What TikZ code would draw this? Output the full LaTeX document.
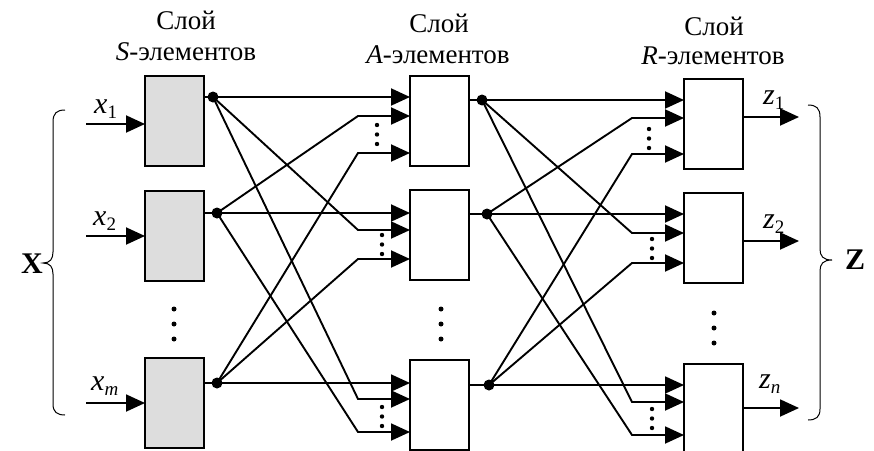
\documentclass[tikz,border=0pt]{standalone}
\usepackage{fontspec}
\setmainfont{Liberation Serif}
\usetikzlibrary{arrows.meta}
\definecolor{boxgray}{RGB}{221,221,221}
% variable with a small subscript
\newcommand{\var}[2]{\textit{#1}\raisebox{-5pt}{\fontsize{19}{19}\selectfont #2}}
\begin{document}
\begin{tikzpicture}[x=1pt,y=-1pt,
  wire/.style={line width=1.9pt},
  arr/.style={wire,-{Triangle[length=19pt,width=17pt]}},
  unit/.style={draw,line width=2pt,minimum width=59pt,minimum height=90pt,inner sep=0pt,outer sep=0pt},
  sunit/.style={unit,fill=boxgray},
  junction/.style={circle,fill=black,inner sep=0pt,minimum size=11pt},
  vdot/.style={circle,fill=black,inner sep=0pt,minimum size=5pt},
  sdot/.style={circle,fill=black,inner sep=0pt,minimum size=4.4pt},
  title/.style={anchor=base,font=\fontsize{27}{30}\selectfont,inner sep=0pt},
  lab/.style={anchor=base west,font=\fontsize{30}{32}\selectfont,inner sep=0pt},
  brace/.style={line width=1pt}]
\useasboundingbox (0,0) rectangle (874,450);

% layer titles
\node[title] (ts1) at (186,29) {Слой};
\node[title] (ts2) at (186,60) {\textit{S}-элементов};
\node[title] (ta1) at (439,32) {Слой};
\node[title] (ta2) at (438,63) {\textit{A}-элементов};
\node[title] (tr1) at (714,35) {Слой};
\node[title] (tr2) at (713,64) {\textit{R}-элементов};

% S-layer
\node[sunit] (s1) at (174.5,121) {};
\node[sunit] (s2) at (174.5,236) {};
\node[sunit] (s3) at (174.5,403) {};
% A-layer
\node[unit] (a1) at (439.5,121) {};
\node[unit] (a2) at (439.5,235) {};
\node[unit] (a3) at (439.5,404.5) {};
% R-layer
\node[unit] (r1) at (713,124) {};
\node[unit] (r2) at (713,238) {};
\node[unit] (r3) at (713,409) {};

% inputs x_i
\coordinate (x1s) at (86,124);
\coordinate (x2s) at (86,236);
\coordinate (x3s) at (86,403);
\draw[arr] (x1s) -- (x1s -| s1.west);
\draw[arr] (x2s) -- (x2s -| s2.west);
\draw[arr] (x3s) -- (x3s -| s3.west);
\node[lab] (lx1) at (94,113) {\var{x}{1}};
\node[lab] (lx2) at (93,225) {\var{x}{2}};
\node[lab] (lx3) at (91,390) {\var{x}{\textit{m}}};

% outputs z_i
\coordinate (z1e) at (799,117);
\coordinate (z2e) at (799,241);
\coordinate (z3e) at (799,408);
\draw[arr] (z1e -| r1.east) -- (z1e);
\draw[arr] (z2e -| r2.east) -- (z2e);
\draw[arr] (z3e -| r3.east) -- (z3e);
\node[lab] (lz1) at (763,104) {\var{z}{1}};
\node[lab] (lz2) at (763,228) {\var{z}{2}};
\node[lab] (lz3) at (759,388) {\var{z}{\textit{n}}};

% branching points
\node[junction] (s1o) at (213,97) {};
\node[junction] (s2o) at (217,213) {};
\node[junction] (s3o) at (217,383) {};
\node[junction] (a1o) at (482,100) {};
\node[junction] (a2o) at (487,214) {};
\node[junction] (a3o) at (489,385) {};
\foreach \b in {s1,s2,s3,a1,a2,a3}
  \draw[wire] (\b.east |- \b o.center) -- (\b o.center);

% input points of the A-layer
\coordinate (a1i1) at (410,97);  \coordinate (a1i2) at (410,116); \coordinate (a1i3) at (410,153);
\coordinate (a2i1) at (410,213); \coordinate (a2i2) at (410,230); \coordinate (a2i3) at (410,259);
\coordinate (a3i1) at (410,383); \coordinate (a3i2) at (410,399); \coordinate (a3i3) at (410,432);
% input points of the R-layer
\coordinate (r1i1) at (684,100); \coordinate (r1i2) at (684,118); \coordinate (r1i3) at (684,154);
\coordinate (r2i1) at (684,214); \coordinate (r2i2) at (684,233); \coordinate (r2i3) at (684,263);
\coordinate (r3i1) at (684,385); \coordinate (r3i2) at (684,402); \coordinate (r3i3) at (684,435);

% S -> A connections
\draw[arr] (s1o.center) -- (a1i1);
\draw[arr] (s1o.center) -- ([xshift=-52pt]a2i2) -- (a2i2);
\draw[arr] (s1o.center) -- ([xshift=-52pt]a3i2) -- (a3i2);
\draw[arr] (s2o.center) -- ([xshift=-52pt]a1i2) -- (a1i2);
\draw[arr] (s2o.center) -- (a2i1);
\draw[arr] (s2o.center) -- ([xshift=-52pt]a3i3) -- (a3i3);
\draw[arr] (s3o.center) -- ([xshift=-52pt]a1i3) -- (a1i3);
\draw[arr] (s3o.center) -- ([xshift=-52pt]a2i3) -- (a2i3);
\draw[arr] (s3o.center) -- (a3i1);

% A -> R connections
\draw[arr] (a1o.center) -- (r1i1);
\draw[arr] (a1o.center) -- ([xshift=-52pt]r2i2) -- (r2i2);
\draw[arr] (a1o.center) -- ([xshift=-52pt]r3i2) -- (r3i2);
\draw[arr] (a2o.center) -- ([xshift=-52pt]r1i2) -- (r1i2);
\draw[arr] (a2o.center) -- (r2i1);
\draw[arr] (a2o.center) -- ([xshift=-52pt]r3i3) -- (r3i3);
\draw[arr] (a3o.center) -- ([xshift=-52pt]r1i3) -- (r1i3);
\draw[arr] (a3o.center) -- ([xshift=-52pt]r2i3) -- (r2i3);
\draw[arr] (a3o.center) -- (r3i1);

% small ellipses between inputs
\foreach \x/\y in {377/125, 382/235, 382/407, 649/129, 652/239, 652/409}
  \foreach \k in {0,1,2}
    \node[sdot] at (\x,\y+9.5*\k) {};

% ellipses between units
\foreach \x/\y in {174/309, 441/309, 714/313}
  \foreach \k in {0,1,2}
    \node[vdot] at (\x,\y+15*\k) {};

% braces
\draw[brace] (65,110) .. controls (57,110) and (53,113) .. (53,122) -- (53,252)
  .. controls (53,259) and (50,263) .. (43,263)
  .. controls (50,263) and (53,267) .. (53,274) -- (53,404)
  .. controls (53,412) and (57,415) .. (65,415);
\draw[brace] (808,105) .. controls (816,105) and (820,108) .. (820,117) -- (820,249)
  .. controls (820,256) and (823,260) .. (832,260)
  .. controls (823,260) and (820,264) .. (820,271) -- (820,409)
  .. controls (820,417) and (816,420) .. (808,420);
\node[lab] (lX) at (21,273) {\textbf{X}};
\node[lab] (lZ) at (845,269) {\textbf{Z}};
\end{tikzpicture}
\end{document}
